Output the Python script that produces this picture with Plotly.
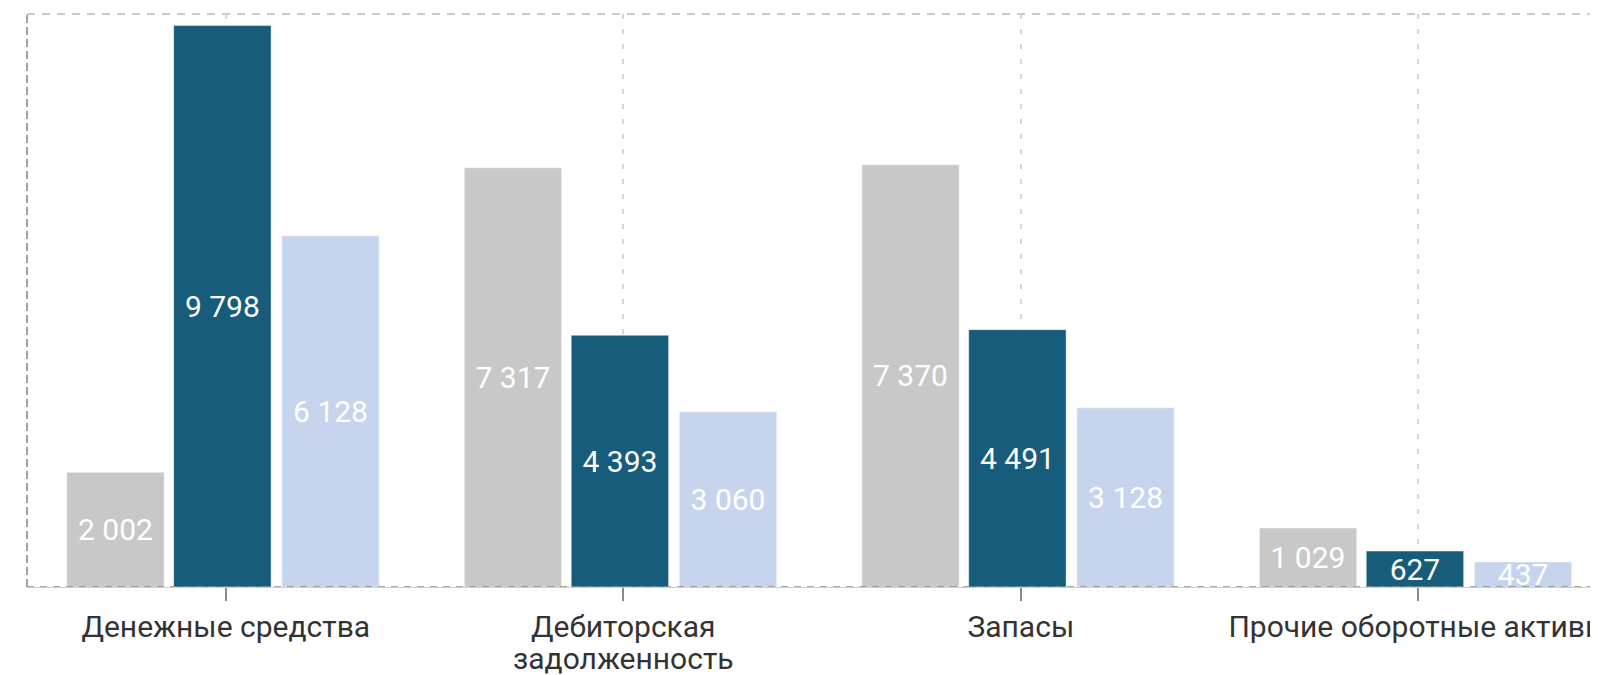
import plotly.graph_objects as go

categories = ["Денежные средства", "Дебиторская<br>задолженность", "Запасы", "Прочие оборотные активы"]
series_names = ["Период 1", "Период 2", "Период 3"]
values_1 = [2002, 7317, 7370, 1029]
values_2 = [9798, 4393, 4491, 627]
values_3 = [6128, 3060, 3128, 437]
colors = ["#C8C8C8", "#175C7A", "#C6D4EE"]
bar_offsets = [-0.400, -0.131, 0.141]

fig = go.Figure()
for name, vals, col, off in zip(series_names, [values_1, values_2, values_3], colors, bar_offsets):
    fig.add_trace(go.Bar(
        x=categories, y=vals, name=name,
        width=0.245, offset=off,
        marker=dict(color=col, line=dict(color="rgba(255,255,255,0.45)", width=1)),
        texttemplate="%{y:,}", textposition="inside", insidetextanchor="middle",
        textangle=0, constraintext="none", cliponaxis=True,
        textfont=dict(family="Roboto", size=30, color="white"),
        showlegend=False,
    ))

# first line of each category as tick label, further lines as tighter-spaced annotations
first_lines = [c.split("<br>")[0] for c in categories]
annotations = []
for c in categories:
    parts = c.split("<br>")
    for i, extra in enumerate(parts[1:], start=1):
        annotations.append(dict(
            x=c, xref="x", y=0, yref="paper", text=extra, showarrow=False,
            xanchor="center", yanchor="top", yshift=-20 - 32 * i,
            font=dict(family="Roboto", size=30, color="#333333"),
        ))

# page body has an 8px margin: compensate so the plot lands where the reference has it
fig.update_layout(
    width=1590, height=667,
    margin=dict(l=19, r=0, t=6, b=88, autoexpand=False),
    paper_bgcolor="white", plot_bgcolor="white",
    barmode="group",
    separators=". ",
    font=dict(family="Roboto", color="#333333"),
    xaxis=dict(
        range=[-0.5, 3.452], automargin=False,
        tickmode="array", tickvals=categories, ticktext=first_lines,
        showgrid=True, gridcolor="#D6D6D6", gridwidth=2, griddash="5px,10px",
        showline=True, linecolor="#CFCFCF", linewidth=1,
        ticks="outside", ticklen=13, tickwidth=2, tickcolor="#8A8A8A",
        tickfont=dict(family="Roboto", size=30, color="#333333"),
        zeroline=False,
    ),
    yaxis=dict(
        range=[0, 10000], showgrid=False, zeroline=False, automargin=False,
        showticklabels=False, ticks="",
    ),
    annotations=annotations,
    shapes=[
        dict(type="line", xref="paper", yref="paper", x0=0, x1=1, y0=1, y1=1,
             line=dict(color="#CCCCCC", width=2, dash="8px,7px"), layer="above"),
        dict(type="line", xref="paper", yref="paper", x0=0, x1=0, y0=0, y1=1,
             line=dict(color="#A0A0A0", width=2, dash="8px,4px"), layer="above"),
        dict(type="line", xref="paper", yref="y", x0=0, x1=1, y0=0, y1=0,
             line=dict(color="#8C8C8C", width=1.5, dash="7px,6px"), layer="above"),
    ],
)

fig.write_html("out.html")
